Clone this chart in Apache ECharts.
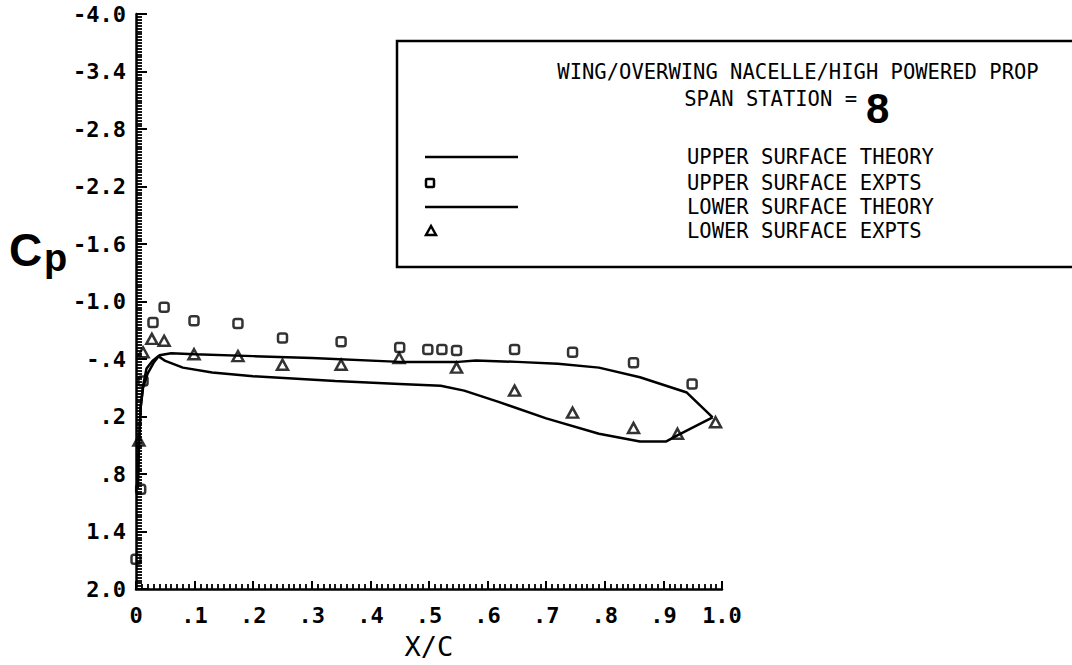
<!DOCTYPE html>
<html>
<head>
<meta charset="utf-8">
<title>Cp distribution - span station 8</title>
<script src="https://cdn.jsdelivr.net/npm/echarts@6.0.0/dist/echarts.min.js"></script>
<style>
  html, body { margin: 0; padding: 0; background: #fff; }
  #chart { width: 1072px; height: 665px; }
</style>
</head>
<body>
<div id="chart"></div>
<script>
// axis ticks
const xTickLabels = ["0", ".1", ".2", ".3", ".4", ".5", ".6", ".7", ".8", ".9", "1.0"];
const yTickLabels = ["-4.0", "-3.4", "-2.8", "-2.2", "-1.6", "-1.0", "-.4", ".2", ".8", "1.4", "2.0"];

// upper surface theory
const upperTheoryX = [0.003, 0.005, 0.008, 0.012, 0.02, 0.03, 0.04, 0.06, 0.1, 0.2, 0.3, 0.45, 0.55, 0.58, 0.65, 0.72, 0.79, 0.86, 0.94, 0.984];
const upperTheoryCp = [0.95, 0.5, 0.1, -0.1, -0.25, -0.36, -0.44, -0.46, -0.45, -0.43, -0.41, -0.37, -0.37, -0.385, -0.37, -0.35, -0.31, -0.21, -0.05, 0.21];

// upper surface experiments
const upperExpX = [0, 0.008, 0.012, 0.029, 0.048, 0.099, 0.174, 0.25, 0.35, 0.45, 0.498, 0.522, 0.547, 0.646, 0.745, 0.849, 0.949];
const upperExpCp = [1.69, 0.96, -0.17, -0.78, -0.94, -0.8, -0.77, -0.62, -0.58, -0.52, -0.5, -0.5, -0.49, -0.5, -0.47, -0.36, -0.14];

// lower surface theory
const lowerTheoryX = [0.003, 0.005, 0.008, 0.012, 0.018, 0.028, 0.038, 0.05, 0.08, 0.13, 0.2, 0.34, 0.45, 0.52, 0.56, 0.62, 0.7, 0.79, 0.86, 0.905, 0.923, 0.984];
const lowerTheoryCp = [0.95, 0.5, 0.1, -0.12, -0.3, -0.38, -0.43, -0.38, -0.31, -0.26, -0.22, -0.17, -0.14, -0.12, -0.07, 0.05, 0.22, 0.38, 0.46, 0.46, 0.4, 0.21];

// lower surface experiments
const lowerExpX = [0.005, 0.012, 0.027, 0.048, 0.099, 0.174, 0.25, 0.35, 0.449, 0.547, 0.646, 0.745, 0.849, 0.924, 0.989];
const lowerExpCp = [0.45, -0.47, -0.61, -0.59, -0.45, -0.43, -0.34, -0.34, -0.41, -0.31, -0.07, 0.16, 0.32, 0.38, 0.26];

const legendLabels = ["UPPER SURFACE THEORY", "UPPER SURFACE EXPTS", "LOWER SURFACE THEORY", "LOWER SURFACE EXPTS"];

const plotFont = "'DejaVu Sans Mono', monospace";

function zip(xs, ys) {
  return xs.map((x, i) => [x, ys[i]]);
}

const chart = echarts.init(document.getElementById("chart"), null, { renderer: "svg" });

const lineStyle = { color: "#000", width: 2.5 };

chart.setOption({
  animation: false,
  backgroundColor: "#fff",
  grid: {
    left: 136,
    right: 350,
    top: 14,
    bottom: 72
  },
  xAxis: {
    type: "value",
    min: 0,
    max: 1,
    interval: 0.1,
    name: "X/C",
    nameLocation: "middle",
    nameGap: 44,
    nameTextStyle: {
      color: "#000",
      fontFamily: plotFont,
      fontSize: 27
    },
    axisLine: { onZero: false, lineStyle: { color: "#000", width: 2.5 } },
    axisTick: { show: true, inside: true, length: 8, lineStyle: { color: "#000", width: 2 } },
    minorTick: { show: true, splitNumber: 10, length: 5, lineStyle: { color: "#000", width: 1.8 } },
    splitLine: { show: false },
    axisLabel: {
      color: "#000",
      fontFamily: plotFont,
      fontWeight: "bold",
      fontSize: 22,
      margin: 15,
      formatter: v => xTickLabels[Math.round(v * 10)]
    }
  },
  yAxis: {
    type: "value",
    inverse: true,
    min: -4,
    max: 2,
    interval: 0.6,
    axisLine: { show: true, onZero: false, lineStyle: { color: "#000", width: 2.5 } },
    axisTick: { show: true, inside: true, length: 11, lineStyle: { color: "#000", width: 2 } },
    minorTick: { show: true, splitNumber: 20, length: 6, lineStyle: { color: "#000", width: 1.8 } },
    splitLine: { show: false },
    axisLabel: {
      color: "#000",
      fontFamily: plotFont,
      fontWeight: "bold",
      fontSize: 22,
      margin: 10,
      formatter: v => yTickLabels[Math.round((v + 4) / 0.6)]
    }
  },
  graphic: [
    {
      type: "rect",
      shape: { x: 397, y: 41, width: 720, height: 226 },
      style: { fill: "none", stroke: "#000", lineWidth: 2.5 }
    },
    {
      type: "text",
      x: 798,
      y: 72,
      style: {
        text: "WING/OVERWING NACELLE/HIGH POWERED PROP",
        font: "20.5px " + plotFont,
        lineHeight: 20,
        fill: "#000",
        align: "center",
        verticalAlign: "middle"
      }
    },
    {
      type: "text",
      x: 857,
      y: 99,
      style: {
        text: "SPAN STATION =",
        font: "20.5px " + plotFont,
        lineHeight: 20,
        fill: "#000",
        align: "right",
        verticalAlign: "middle"
      }
    },
    {
      type: "text",
      x: 866,
      y: 108,
      style: {
        text: "8",
        font: "bold 42px 'Liberation Sans', sans-serif",
        lineHeight: 30,
        fill: "#000",
        align: "left",
        verticalAlign: "middle"
      }
    },
    // legend samples
    { type: "line", shape: { x1: 425, y1: 157, x2: 518, y2: 157 }, style: { stroke: "#000", lineWidth: 2.5 } },
    { type: "rect", shape: { x: 426, y: 179, width: 8, height: 8, r: 1 }, style: { fill: "none", stroke: "#000", lineWidth: 2.5 } },
    { type: "line", shape: { x1: 425, y1: 207, x2: 518, y2: 207 }, style: { stroke: "#000", lineWidth: 2.5 } },
    { type: "polygon", shape: { points: [[431, 226], [426, 235], [436, 235]] }, style: { fill: "none", stroke: "#000", lineWidth: 2.5 } },
    ...legendLabels.map((t, i) => ({
      type: "text",
      x: 687,
      y: [157, 183, 207, 231][i],
      style: {
        text: t,
        font: "20.5px " + plotFont,
        lineHeight: 20,
        fill: "#000",
        align: "left",
        verticalAlign: "middle"
      }
    })),
    // Cp axis title
    {
      type: "text",
      x: 9,
      y: 250,
      style: {
        text: "C",
        font: "bold 46px 'Liberation Sans', sans-serif",
        fill: "#000",
        align: "left",
        verticalAlign: "middle"
      }
    },
    {
      type: "text",
      x: 44,
      y: 258,
      style: {
        text: "p",
        font: "bold 38px 'Liberation Sans', sans-serif",
        fill: "#000",
        align: "left",
        verticalAlign: "middle"
      }
    }
  ],
  series: [
    {
      name: legendLabels[0],
      type: "line",
      data: zip(upperTheoryX, upperTheoryCp),
      showSymbol: false,
      lineStyle: lineStyle,
      z: 2
    },
    {
      name: legendLabels[2],
      type: "line",
      data: zip(lowerTheoryX, lowerTheoryCp),
      showSymbol: false,
      lineStyle: lineStyle,
      z: 2
    },
    {
      name: legendLabels[1],
      type: "scatter",
      data: zip(upperExpX, upperExpCp),
      symbol: "roundRect",
      symbolSize: 9,
      itemStyle: { color: "rgba(0,0,0,0)", borderColor: "#000", borderWidth: 2.5 },
      z: 3
    },
    {
      name: legendLabels[3],
      type: "scatter",
      data: zip(lowerExpX, lowerExpCp),
      symbol: "triangle",
      symbolSize: [11, 10],
      itemStyle: { color: "rgba(0,0,0,0)", borderColor: "#000", borderWidth: 2.5 },
      z: 3
    }
  ]
});
</script>
</body>
</html>
